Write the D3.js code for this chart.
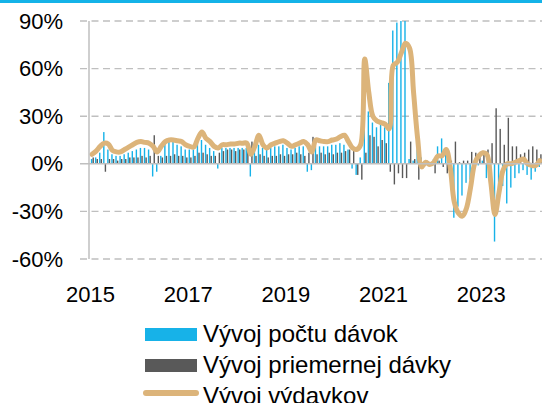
<!DOCTYPE html>
<html>
<head>
<meta charset="utf-8">
<script src="https://d3js.org/d3.v7.min.js"></script>
<style>
  body { margin: 0; background: #fff; }
  svg { display: block; font-family: "Liberation Sans", Arial, sans-serif; }
</style>
</head>
<body>
<script>
// monthly series, Jan 2015 .. Mar 2024 (y/y change, %)
var startYear = 2015;
var yearLabels = ["2015", "2017", "2019", "2021", "2023"];
var yTicks = [-60, -30, 0, 30, 60, 90];
var seriesNames = ["Vývoj počtu dávok", "Vývoj priemernej dávky", "Vývoj výdavkov"];

var pocet = [
  3, 4, 7, 20, 9, 6, 5, 5, 6, 7, 8, 9,
  10, 10, 9, -8, -5, 5, 13, 14, 14, 12, 11, 9,
  9, 9, 13, 15, 12, 10, 8, -3, 10, 10, 10, 10,
  10, 10, 10, -8, 9, 12, 10, 9, 10, 11, 11, 12,
  10, 9, 10, 11, 11, -5, -4, 11, 11, 11, 11, 12,
  12, 13, 12, 9, -3, -7, 4, 62, 33, 26, 23, 26,
  23, 51, 84, 89, 93, 93, 3, 2, 9, 4, 2, 1,
  3, 11, 16, 7, -4, -34, -27, -20, -12, -10, -3, -1,
  2, -9, -5, -49, -21, -14, -25, -15, -9, -6, -4, -7,
  -10, -5, -2
];
var priemer = [
  4, 3, 3, -5, 3, 3, 2, 3, 3, 4, 4, 4,
  5, 4, 5, 18, 5, 4, 5, 5, 6, 5, 5, 4,
  4, 5, 7, 7, 6, 5, 5, 7, 8, 9, 9, 8,
  9, 9, 8, 14, 5, 6, 5, 4, 5, 5, 6, 5,
  6, 6, 7, 6, 5, 7, 17, 6, 7, 6, 7, 6,
  7, 7, 8, 9, 9, -7, -10, 7, 18, 17, 11, 15,
  13, -5, -13, -6, -9, -9, 14, 3, -10, 1, 2, 1,
  -6, 2, -2, -6, 2, 14, 1, 2, 2, 7.5, 7, 5,
  7, 9, 13, 35, 22, 12, 29, 11, 11, 6, 7, 9,
  11, 9, 6
];
var vydavky = [
  6, 8, 11, 13, 12.5, 8.5, 7.5, 7.5, 9, 10.5, 12, 13.5,
  14, 13.5, 13, 11, 7.5, 11, 14, 15, 15, 14.5, 14, 12,
  11, 10.5, 16, 20, 16, 14, 11, 10, 12, 12, 12.5, 12.5,
  13, 13, 13, 6, 11, 18, 12, 10, 12, 13, 14, 14.5,
  13, 11, 12, 13, 14, 12, 7.5, 15, 14.5, 14, 14, 15,
  15.5, 17, 18, 14, 10, 9, 12, 66, 45, 30, 27, 26,
  25, 22, 62, 64, 70, 76, 73, 45, 16, -2, 1, -0.5,
  1, 5, 5, 9, -2, -24, -31, -33, -28, -15, 0, 5,
  7, 6, -12, -32, -18, -4, 0, 0, 1, 2, 3, 0,
  -1, -1, 2
];

var W = 542, H = 403;
var n = vydavky.length;

var svg = d3.select("body").append("svg")
    .attr("width", W)
    .attr("height", H);

// blue strip on top
svg.append("rect")
    .attr("x", 0).attr("y", 0)
    .attr("width", W).attr("height", 3)
    .attr("fill", "#14b3e8");

var x = d3.scaleLinear().domain([0, n]).range([90, 90 + 4.07 * n]);
var y = d3.scaleLinear().domain([-60, 90]).range([259, 21]);

svg.append("clipPath").attr("id", "plot")
  .append("rect")
    .attr("x", 0).attr("y", y(90))
    .attr("width", W).attr("height", y(-60) - y(90));

// gridlines
svg.append("g")
  .selectAll("line")
  .data(yTicks.filter(function (d) { return d !== 0; }))
  .enter().append("line")
    .attr("x1", 80).attr("x2", W)
    .attr("y1", function (d) { return y(d); })
    .attr("y2", function (d) { return y(d); })
    .attr("stroke", "#bfbfbf")
    .attr("stroke-width", 1.4)
    .attr("stroke-dasharray", "7,4.5");

var plot = svg.append("g").attr("clip-path", "url(#plot)");

// bars
plot.selectAll(".pocet")
    .data(pocet)
    .enter().append("rect")
    .attr("x", function (d, i) { return x(i) + 0.9; })
    .attr("width", 1.4)
    .attr("y", function (d) { return y(Math.max(0, d)); })
    .attr("height", function (d) { return Math.abs(y(d) - y(0)); })
    .attr("fill", "#17b2e8");

plot.selectAll(".priemer")
    .data(priemer)
    .enter().append("rect")
    .attr("x", function (d, i) { return x(i) + 2.5; })
    .attr("width", 1.4)
    .attr("y", function (d) { return y(Math.max(0, d)); })
    .attr("height", function (d) { return Math.abs(y(d) - y(0)); })
    .attr("fill", "#595959");

// zero line + y axis line
svg.append("line")
    .attr("x1", 80).attr("x2", W)
    .attr("y1", y(0)).attr("y2", y(0))
    .attr("stroke", "#bfbfbf")
    .attr("stroke-width", 1.5);
svg.append("line")
    .attr("x1", 89).attr("x2", 89)
    .attr("y1", y(90)).attr("y2", y(-60))
    .attr("stroke", "#bfbfbf")
    .attr("stroke-width", 1.5);

// expenditure line
var line = d3.line()
    .x(function (d, i) { return x(i + 0.5); })
    .y(function (d) { return y(d); })
    .curve(d3.curveCatmullRom.alpha(0.5));

plot.append("path")
    .datum(vydavky)
    .attr("d", line)
    .attr("fill", "none")
    .attr("stroke", "#dcb47a")
    .attr("stroke-width", 5)
    .attr("stroke-linejoin", "round")
    .attr("stroke-linecap", "round");

// axes
var yAxis = svg.append("g")
    .attr("transform", "translate(89,0)")
    .call(d3.axisLeft(y).tickValues(yTicks).tickSize(0).tickPadding(26)
        .tickFormat(function (d) { return d + "%"; }));
yAxis.select(".domain").remove();
yAxis.selectAll("text")
    .attr("font-size", 22)
    .attr("font-family", "Liberation Sans, Arial, sans-serif")
    .attr("fill", "#000");

var xAxis = svg.append("g")
    .attr("transform", "translate(0," + y(-60) + ")")
    .call(d3.axisBottom(x)
        .tickValues(yearLabels.map(function (d) { return (+d - startYear) * 12; }))
        .tickSize(0).tickPadding(27)
        .tickFormat(function (d, i) { return yearLabels[i]; }));
xAxis.select(".domain").remove();
xAxis.selectAll("text")
    .attr("font-size", 22)
    .attr("font-family", "Liberation Sans, Arial, sans-serif")
    .attr("fill", "#000");

// legend
var legend = svg.append("g").attr("transform", "translate(145,0)");
var rows = [
  { name: seriesNames[0], color: "#17b2e8", type: "rect", y: 342 },
  { name: seriesNames[1], color: "#595959", type: "rect", y: 373 },
  { name: seriesNames[2], color: "#dcb47a", type: "line", y: 404 }
];
rows.forEach(function (r) {
  if (r.type === "rect") {
    legend.append("rect")
        .attr("x", 0).attr("y", r.y - 14)
        .attr("width", 52).attr("height", 13)
        .attr("fill", r.color);
  } else {
    legend.append("line")
        .attr("x1", 1).attr("x2", 51)
        .attr("y1", r.y - 11).attr("y2", r.y - 11)
        .attr("stroke", r.color)
        .attr("stroke-width", 6)
        .attr("stroke-linecap", "round");
  }
  legend.append("text")
      .attr("x", 58).attr("y", r.y)
      .attr("font-size", 24)
      .attr("fill", "#000")
      .text(r.name);
});
</script>
</body>
</html>
